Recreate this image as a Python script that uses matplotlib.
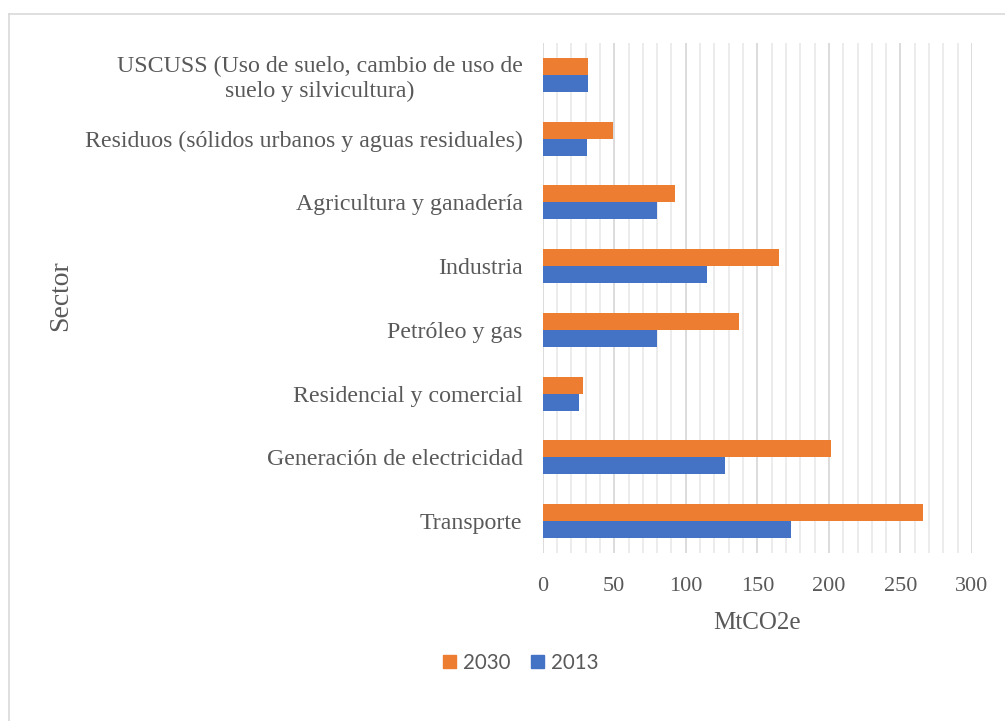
import matplotlib
matplotlib.use("Agg")
import matplotlib.pyplot as plt
from matplotlib.patches import Patch
from matplotlib.lines import Line2D
import numpy as np

categories = [
    "Transporte",
    "Generación de electricidad",
    "Residencial y comercial",
    "Petróleo y gas",
    "Industria",
    "Agricultura y ganadería",
    "Residuos (sólidos urbanos y aguas residuales)",
    "USCUSS (Uso de suelo, cambio de uso de\nsuelo y silvicultura)",
]
values_2013 = [173.5, 127.5, 25.5, 80, 115, 80, 31, 32]
values_2030 = [266, 201.5, 28, 137, 165, 92.5, 49, 32]
series_labels = ["2030", "2013"]
x_ticks = [0, 50, 100, 150, 200, 250, 300]

W, H = 1005, 721
fig = plt.figure(figsize=(W / 100, H / 100), dpi=100)

# outer frame (partial, as in reference)
fig.add_artist(Line2D([9 / W, 9 / W], [0, 1 - 14 / H], color="#d9d9d9", lw=1.2, transform=fig.transFigure))
fig.add_artist(Line2D([9 / W, 1], [1 - 14 / H, 1 - 14 / H], color="#d9d9d9", lw=1.2, transform=fig.transFigure))

x0, x1 = 542.7, 972.0
y_top, y_bot = 43.0, 553.0
ax = fig.add_axes([x0 / W, (H - y_bot) / H, (x1 - x0) / W, (y_bot - y_top) / H])

orange = "#ED7D31"
blue = "#4472C4"
h = 0.266
y = np.arange(len(categories))
ax.barh(y + h / 2, values_2030, height=h, color=orange, zorder=3, label=series_labels[0])
ax.barh(y - h / 2, values_2013, height=h, color=blue, zorder=3, label=series_labels[1])

ax.set_xlim(0, 300)
ax.set_ylim(-0.5, len(categories) - 0.5)

# grid
for v in np.arange(10, 300, 10):
    if v % 50 != 0:
        ax.axvline(v, color="#ebebeb", lw=1.3, zorder=1)
for v in x_ticks:
    ax.axvline(v, color="#d9d9d9", lw=1.3, zorder=2)

for s in ax.spines.values():
    s.set_visible(False)

serif = "Liberation Serif"
ax.set_xticks(x_ticks)
ax.set_xticklabels([str(t) for t in x_ticks], fontsize=16, family=serif, color="#595959")
ax.set_yticks(y)
ax.set_yticklabels(categories, fontsize=17.2, family=serif, color="#595959")
for t in ax.get_yticklabels():
    t.set_multialignment("center")
ax.tick_params(axis="both", length=0)
ax.tick_params(axis="x", pad=17)
ax.tick_params(axis="y", pad=14.5)

fig.text(757 / W, 1 - 623 / H, "MtCO2e", ha="center", va="center", fontsize=18, family=serif, color="#595959")
fig.text(61 / W, 1 - 296 / H, "Sector", ha="center", va="center", rotation=90, fontsize=20, family=serif, color="#595959")

handles = [Patch(color=orange), Patch(color=blue)]
fig.legend(handles, series_labels, loc="center", bbox_to_anchor=(521 / W, 1 - 663 / H), ncol=2,
           frameon=False, prop={"family": "Lato", "size": 14.8}, labelcolor="#595959",
           handlelength=0.62, handleheight=0.62, handletextpad=0.35, columnspacing=1.0)

fig.savefig("out.png", dpi=100)
